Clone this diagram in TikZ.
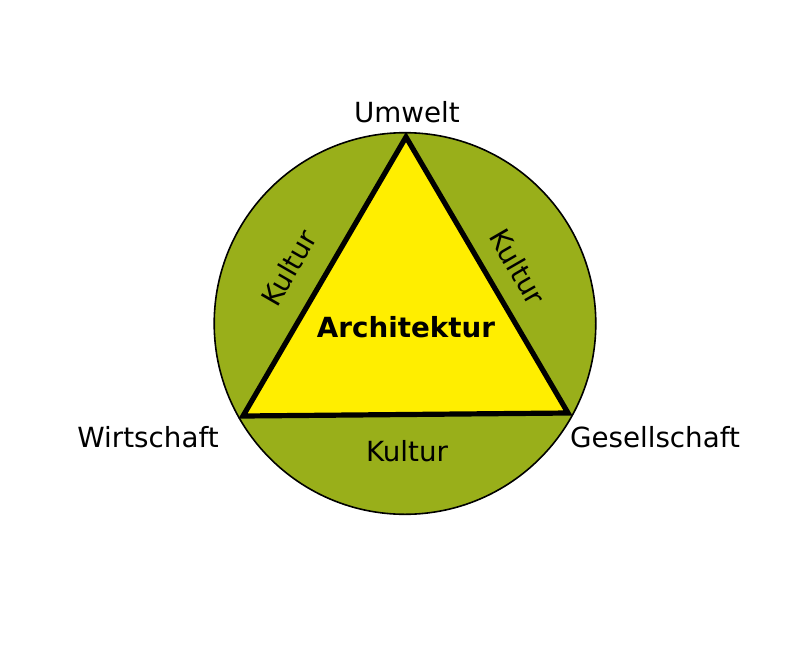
\documentclass[tikz,border=0pt]{standalone}
\usepackage{fontspec}
\setmainfont{DejaVu Sans}
\definecolor{grn}{HTML}{99AF1A}
\definecolor{ylw}{HTML}{FFEE00}
\begin{document}
\begin{tikzpicture}[x=0.75pt,y=-0.75pt,
  lbl/.style={font=\fontsize{20.8}{24}\selectfont, inner sep=0pt, anchor=base},
  bold/.style={font=\fontsize{20.8}{24}\selectfont\bfseries, inner sep=0pt, anchor=base},
  rot/.style={font=\fontsize{20.8}{24}\selectfont, inner sep=0pt}]
\useasboundingbox (0,0) rectangle (800,647);
\fill[white] (0,0) rectangle (800,647);
\coordinate (c) at (405,323.5);
\filldraw[fill=grn, draw=black, line width=1.2pt] (c) circle[radius=143.1pt];
\coordinate (T) at (406,137);
\coordinate (L) at (243,416);
\coordinate (R) at (568,413);
\filldraw[fill=ylw, draw=black, line width=3.9pt, line join=miter] (T) -- (R) -- (L) -- cycle;
\node[lbl] (umw) at (407,122) {Umwelt};
\node[lbl] (wir) at (148,447) {Wirtschaft};
\node[lbl] (ges) at (655,447) {Gesellschaft};
\node[lbl] (k3) at (407,461) {Kultur};
\node[bold] (arch) at (406,337) {Architektur};
\node[rot, rotate=60] (k1) at (289,268) {Kultur};
\node[rot, rotate=-60] (k2) at (518,267) {Kultur};
\end{tikzpicture}
\end{document}
